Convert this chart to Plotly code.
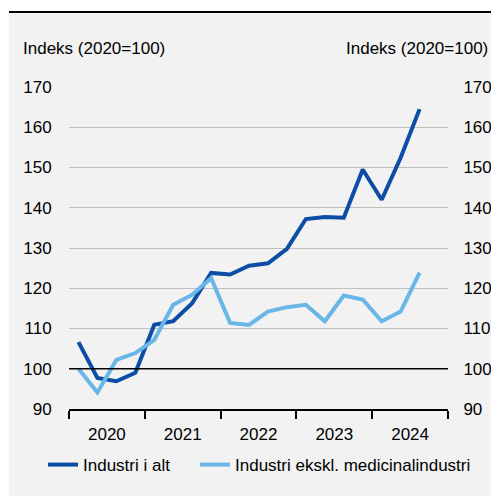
import plotly.graph_objects as go

quarters = ["2020K1", "2020K2", "2020K3", "2020K4",
            "2021K1", "2021K2", "2021K3", "2021K4",
            "2022K1", "2022K2", "2022K3", "2022K4",
            "2023K1", "2023K2", "2023K3", "2023K4",
            "2024K1", "2024K2", "2024K3"]
industri_i_alt = [106.6, 97.7, 96.9, 99.0, 110.9, 111.8, 116.3, 123.8,
                  123.4, 125.6, 126.2, 129.8, 137.2, 137.7, 137.5, 149.5,
                  142.0, 152.4, 164.5]
industri_ekskl = [100.0, 94.1, 102.2, 103.9, 107.2, 115.9, 118.4, 122.5,
                  111.4, 110.9, 114.2, 115.3, 115.9, 111.8, 118.2, 117.2,
                  111.8, 114.2, 123.9]
years = ["2020", "2021", "2022", "2023", "2024"]

FONT = "Liberation Sans, Arial, sans-serif"
x = list(range(len(quarters)))

fig = go.Figure()
fig.add_trace(go.Scatter(x=x, y=industri_i_alt, mode="lines", name="Industri i alt",
                         line=dict(color="#0C4EA6", width=4), legend="legend"))
fig.add_trace(go.Scatter(x=x, y=industri_ekskl, mode="lines",
                         name="Industri ekskl. medicinalindustri",
                         line=dict(color="#6AB6E7", width=4), legend="legend2"))
# invisible copy so the right-hand axis and the year-label axis get drawn
fig.add_trace(go.Scatter(x=x, y=industri_i_alt, mode="lines", xaxis="x2", yaxis="y2",
                         line=dict(color="rgba(0,0,0,0)", width=0),
                         showlegend=False, hoverinfo="skip"))

# year boundaries carry the tick marks, the year labels sit in between
bounds = [-0.5 + 4 * i for i in range(len(years) + 1)]
centers = [1.5 + 4 * i for i in range(len(years))]

legend_style = dict(orientation="h", xanchor="left", y=-0.174, yanchor="middle",
                    bgcolor="rgba(0,0,0,0)", font=dict(size=17), itemwidth=30)

fig.update_layout(
    width=491, height=488,
    margin=dict(l=61, r=51, t=79, b=87),
    paper_bgcolor="white",
    plot_bgcolor="rgba(0,0,0,0)",
    font=dict(family=FONT, size=17, color="black"),
    showlegend=True,
    legend=dict(x=-0.0686, **legend_style),
    legend2=dict(x=0.3325, **legend_style),
    xaxis=dict(range=[-0.5, 19.5], tickvals=bounds, ticks="outside", ticklen=8,
               tickwidth=2, tickcolor="black", showticklabels=False,
               showline=True, linecolor="black", linewidth=2, showgrid=False,
               zeroline=False, automargin=False),
    xaxis2=dict(range=[-0.5, 19.5], overlaying="x", anchor="y", side="bottom",
                tickvals=centers, ticktext=years, ticks="outside", ticklen=10,
                tickcolor="rgba(0,0,0,0)", showline=False, showgrid=False,
                zeroline=False, automargin=False),
    yaxis=dict(range=[90, 170], dtick=10, showgrid=True, gridcolor="#BFBFBF",
               gridwidth=1, ticks="outside", ticklen=13, tickcolor="rgba(0,0,0,0)",
               zeroline=False, showline=False, automargin=False),
    yaxis2=dict(range=[90, 170], dtick=10, overlaying="y", side="right", anchor="x",
                showgrid=False, ticks="outside", ticklen=11,
                tickcolor="rgba(0,0,0,0)", zeroline=False, showline=False,
                automargin=False),
)

fig.add_hline(y=100, line=dict(color="black", width=1.5))

# grey panel and top rule
fig.add_shape(type="rect", xref="paper", yref="paper", x0=-0.1583, x1=1.14,
              y0=-0.28, y1=1.233, fillcolor="#F2F2F2", line=dict(width=0),
              layer="below")
fig.add_shape(type="line", xref="paper", yref="paper", x0=-0.1583, x1=1.14,
              y0=1.233, y1=1.233, line=dict(color="black", width=2))

fig.add_annotation(text="Indeks (2020=100)", xref="paper", yref="paper",
                   x=-0.1266, y=1.121, xanchor="left", yanchor="middle",
                   showarrow=False, font=dict(size=17))
fig.add_annotation(text="Indeks (2020=100)", xref="paper", yref="paper",
                   x=1.1108, y=1.121, xanchor="right", yanchor="middle",
                   showarrow=False, font=dict(size=17))

fig.write_html("out.html")
